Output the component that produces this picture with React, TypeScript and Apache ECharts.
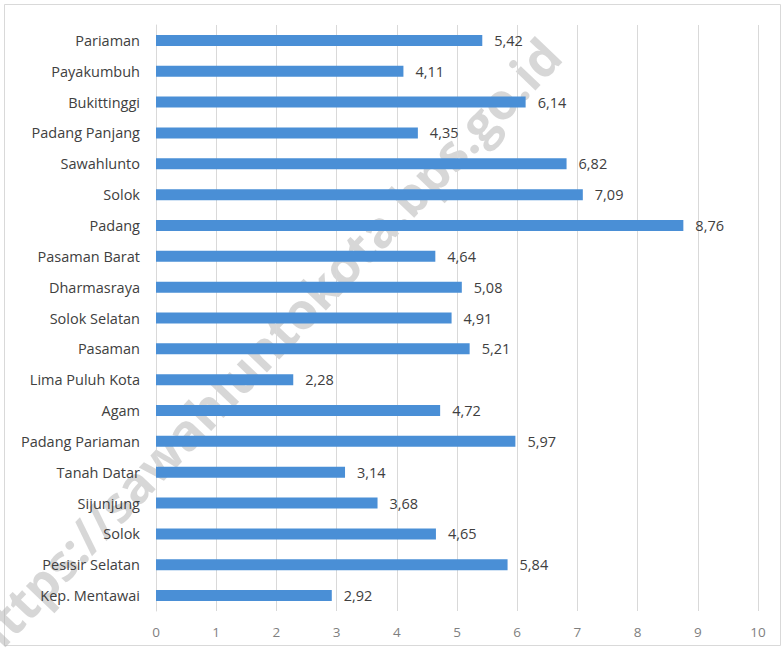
import React, { useEffect, useRef } from "react";
import * as echarts from "echarts";

const categories = [
  "Pariaman",
  "Payakumbuh",
  "Bukittinggi",
  "Padang Panjang",
  "Sawahlunto",
  "Solok",
  "Padang",
  "Pasaman Barat",
  "Dharmasraya",
  "Solok Selatan",
  "Pasaman",
  "Lima Puluh Kota",
  "Agam",
  "Padang Pariaman",
  "Tanah Datar",
  "Sijunjung",
  "Solok",
  "Pesisir Selatan",
  "Kep. Mentawai",
];

const values = [
  5.42, 4.11, 6.14, 4.35, 6.82, 7.09, 8.76, 4.64, 5.08, 4.91, 5.21, 2.28, 4.72,
  5.97, 3.14, 3.68, 4.65, 5.84, 2.92,
];

const watermark = "https://sawahluntokota.bps.go.id";

export default function App() {
  const ref = useRef<HTMLDivElement>(null);

  useEffect(() => {
    if (!ref.current) return;
    const chart = echarts.init(ref.current, null, { renderer: "svg" });
    chart.setOption({
      animation: false,
      backgroundColor: "#ffffff",
      textStyle: { fontFamily: "Open Sans" },
      graphic: [
        {
          type: "rect",
          z: -10,
          silent: true,
          shape: { x: 4.5, y: 4.5, width: 776, height: 641 },
          style: { fill: "none", stroke: "#d9d9d9", lineWidth: 1 },
        },
        {
          type: "text",
          z: -10,
          silent: true,
          x: 264,
          y: 348,
          rotation: 0.81,
          style: {
            text: watermark,
            fontSize: 50,
            fontWeight: "bold",
            fontFamily: "Open Sans",
            fill: "rgba(175,175,175,0.5)",
            align: "center",
            verticalAlign: "middle",
          },
        },
      ],
      grid: { left: 156, right: 26, top: 25, bottom: 39, containLabel: false },
      xAxis: {
        type: "value",
        min: 0,
        max: 10,
        interval: 1,
        axisLine: { show: false },
        axisTick: { show: false },
        splitLine: { show: true, lineStyle: { color: "#d9d9d9", width: 1 } },
        axisLabel: { color: "#7f7f7f", fontSize: 13.5, margin: 14 },
      },
      yAxis: {
        type: "category",
        inverse: true,
        data: categories,
        axisLine: { show: true, lineStyle: { color: "#d9d9d9" } },
        axisTick: { show: false },
        axisLabel: { color: "#404040", fontSize: 14.5, margin: 16 },
      },
      series: [
        {
          type: "bar",
          data: values,
          barWidth: 11,
          z: 2,
          itemStyle: { color: "#4a8fd6" },
          label: {
            show: true,
            position: "right",
            distance: 12,
            color: "#404040",
            fontSize: 14.5,
            formatter: (p: any) => Number(p.value).toFixed(2).replace(".", ","),
          },
        },
      ],
    });
    return () => chart.dispose();
  }, []);

  return (
    <div
      ref={ref}
      style={{ position: "fixed", left: 0, top: 0, width: 784, height: 650 }}
    />
  );
}
